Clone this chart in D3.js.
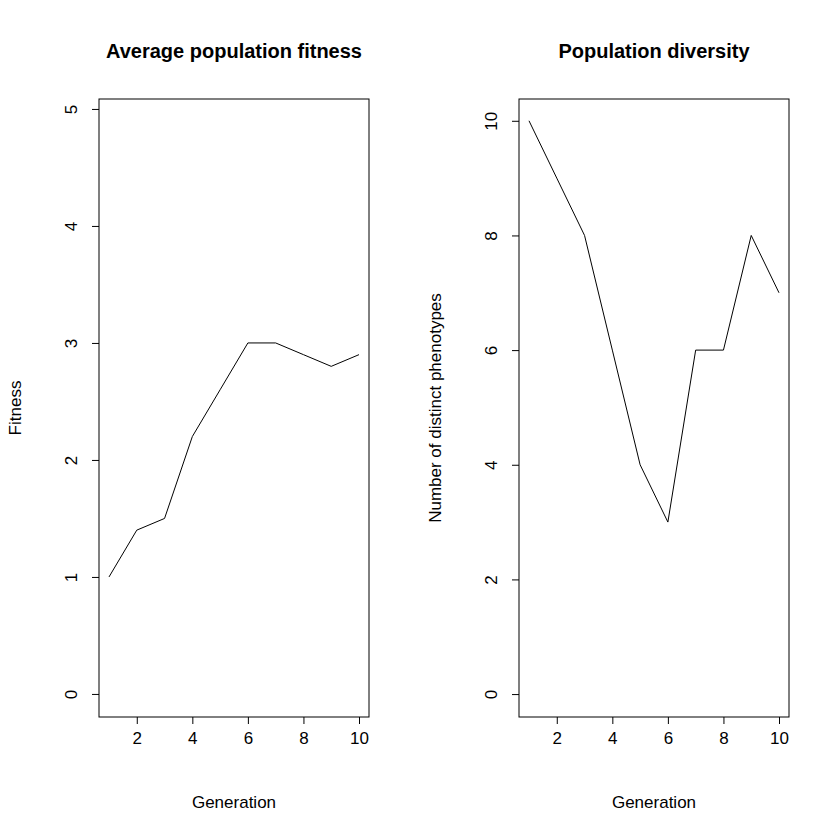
<!DOCTYPE html>
<html><head><meta charset="utf-8">
<script src="https://cdn.jsdelivr.net/npm/d3@7"></script>
<style>body{margin:0;background:#fff}text{font-family:"Liberation Sans",Arial,sans-serif}</style>
</head><body><svg id="c" width="840" height="840"></svg>
<script>
const generations=[1,2,3,4,5,6,7,8,9,10];
const fitness=[1,1.4,1.5,2.2,2.6,3.0,3.0,2.9,2.8,2.9];
const diversity=[10,9,8,6,4,3,6,6,8,7];
const xTicks=[2,4,6,8,10];
const fitTicks=[0,1,2,3,4,5];
const divTicks=[0,2,4,6,8,10];
const svg=d3.select("#c");
function panel(x0,yDom,vals,ticks,title,ylab,ylabX){
  const x=d3.scaleLinear().domain([0.64,10.36]).range([x0,x0+270]);
  const y=d3.scaleLinear().domain(yDom).range([717,99]);
  const g=svg.append("g");
  g.append("rect").attr("x",x0).attr("y",99).attr("width",270).attr("height",618).attr("fill","none").attr("stroke","#000");
  const xa=g.append("g").attr("transform","translate(0,717)").call(d3.axisBottom(x).tickValues(xTicks).tickFormat(d3.format("d")).tickSize(7).tickPadding(8));
  xa.select(".domain").remove();
  xa.selectAll("text").style("font-size","17px").attr("fill","#000");
  const ya=g.append("g").attr("transform",`translate(${x0},0)`).call(d3.axisLeft(y).tickValues(ticks).tickFormat(d3.format("d")).tickSize(7));
  ya.select(".domain").remove();
  ya.selectAll("text").style("font-size","17px").attr("fill","#000").attr("text-anchor","middle")
    .attr("transform","translate(-28,0) rotate(-90)").attr("x",0).attr("y",0).attr("dy","0.35em");
  g.append("path").datum(vals).attr("fill","none").attr("stroke","#000").attr("stroke-width",1)
    .attr("d",d3.line().x((d,i)=>x(generations[i])).y(d=>y(d)));
  g.append("text").attr("x",x0+135).attr("y",58).attr("text-anchor","middle").style("font-size","20px").style("font-weight","bold").text(title);
  g.append("text").attr("x",x0+135).attr("y",808).attr("text-anchor","middle").style("font-size","17px").text("Generation");
  g.append("text").attr("transform",`translate(${ylabX},408) rotate(-90)`).attr("text-anchor","middle").style("font-size","17px").text(ylab);
}
panel(99,[-0.197,5.085],fitness,fitTicks,"Average population fitness","Fitness",21);
panel(519,[-0.4,10.38],diversity,divTicks,"Population diversity","Number of distinct phenotypes",441);
</script></body></html>
